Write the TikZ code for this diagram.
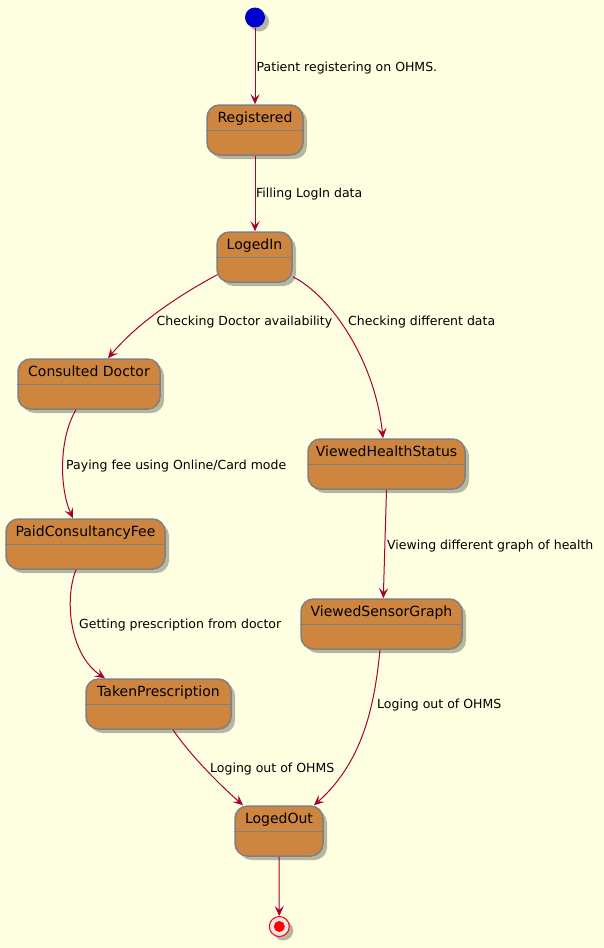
\documentclass[tikz,border=0pt]{standalone}
\usepackage{fontspec}
\setmainfont{DejaVu Sans}
\usetikzlibrary{arrows.meta,shadows,calc}
\definecolor{bg}{RGB}{254,254,224}
\definecolor{stfill}{RGB}{205,133,63}
\definecolor{stline}{RGB}{128,128,128}
\definecolor{arr}{RGB}{168,0,54}
\definecolor{initc}{RGB}{0,0,204}
\definecolor{finring}{RGB}{236,230,230}
\tikzset{
  shad/.style={drop shadow={shadow xshift=4pt, shadow yshift=-4pt, fill=black, opacity=0.28}},
  st/.style={draw=stline, fill=stfill, line width=1.5pt, rounded corners=12.5pt,
    minimum height=50pt, inner sep=0pt, shad},
  ttl/.style={anchor=base, inner sep=0pt, font=\fontsize{14}{16}\selectfont},
  divline/.style={draw=stline, line width=1.5pt},
  lbl/.style={anchor=base west, inner sep=0pt, font=\fontsize{12.5}{14}\selectfont},
  tr/.style={draw=arr, line width=1pt, -{Stealth[length=10pt,width=9pt,inset=4pt]}},
}
\newcommand\mkstate[5]{%
  \node[st, minimum width=#4pt] (#1) at (#2,#3) {};
  \node[ttl] (#1-t) at ([yshift=-18.3pt]#1.north) {#5};
  \draw[divline] ([yshift=-26pt]#1.north west) -- ([yshift=-26pt]#1.north east);
}
\begin{document}
\begin{tikzpicture}[x=1pt,y=-1pt]
\fill[bg] (0,0) rectangle (604,948);
\useasboundingbox (0,0) rectangle (604,948);

\node[circle, fill=initc, minimum size=20pt, inner sep=0pt, shad] (init) at (255,17.5) {};

\mkstate{reg}{255}{130}{96}{Registered}
\mkstate{login}{254.5}{257}{75}{LogedIn}
\mkstate{cons}{89}{384}{142}{Consulted Doctor}
\mkstate{vhs}{386.5}{464}{157}{ViewedHealthStatus}
\mkstate{paid}{85.5}{544}{159}{PaidConsultancyFee}
\mkstate{vsg}{381.5}{624}{161}{ViewedSensorGraph}
\mkstate{taken}{158.5}{704}{145}{TakenPrescription}
\mkstate{out}{279}{831}{88}{LogedOut}

\node[circle, draw=red, fill=finring, minimum size=20pt, inner sep=0pt, line width=1pt, shad] (fin) at (279.3,926.5) {};
\node[circle, fill=red, minimum size=11pt, inner sep=0pt] (finin) at (fin) {};

\draw[tr] (init) -- (reg);
\draw[tr] (reg.south) -- (reg.south |- login.north);
\draw[tr] ([xshift=1pt,yshift=8pt]login.south west) .. controls (185,292) and (140,320) .. ([xshift=19pt]cons.north);
\draw[tr] ([yshift=6pt]login.south east) .. controls (330,295) and (375,360) .. ([xshift=-3.5pt]vhs.north);
\draw[tr] ([xshift=-13pt]cons.south) .. controls (58,440) and (60,490) .. ([xshift=-12.5pt]paid.north);
\draw[tr] (vhs.south) -- ([xshift=1.8pt]vsg.north);
\draw[tr] ([xshift=-9.5pt]paid.south) .. controls (64,600) and (70,655) .. ([xshift=-53.5pt]taken.north);
\draw[tr] ([xshift=-1.5pt]vsg.south) .. controls (375,700) and (365,760) .. ([xshift=35pt]out.north);
\draw[tr] ([xshift=14.5pt]taken.south) .. controls (190,755) and (220,785) .. ([xshift=-36pt]out.north);
\draw[tr] (out) -- (fin);

\node[lbl] (l1) at (256.5,71.8) {Patient registering on OHMS.};
\node[lbl] (l2) at (256,197.8) {Filling LogIn data};
\node[lbl] (l3) at (156.5,325.5) {Checking Doctor availability};
\node[lbl] (l4) at (348,325.5) {Checking different data};
\node[lbl] (l5) at (66,469) {Paying fee using Online/Card mode};
\node[lbl] (l6) at (387,549.8) {Viewing different graph of health};
\node[lbl] (l7) at (79,628.8) {Getting prescription from doctor};
\node[lbl] (l8) at (377,708.8) {Loging out of OHMS};
\node[lbl] (l9) at (210,772) {Loging out of OHMS};
\end{tikzpicture}
\end{document}
